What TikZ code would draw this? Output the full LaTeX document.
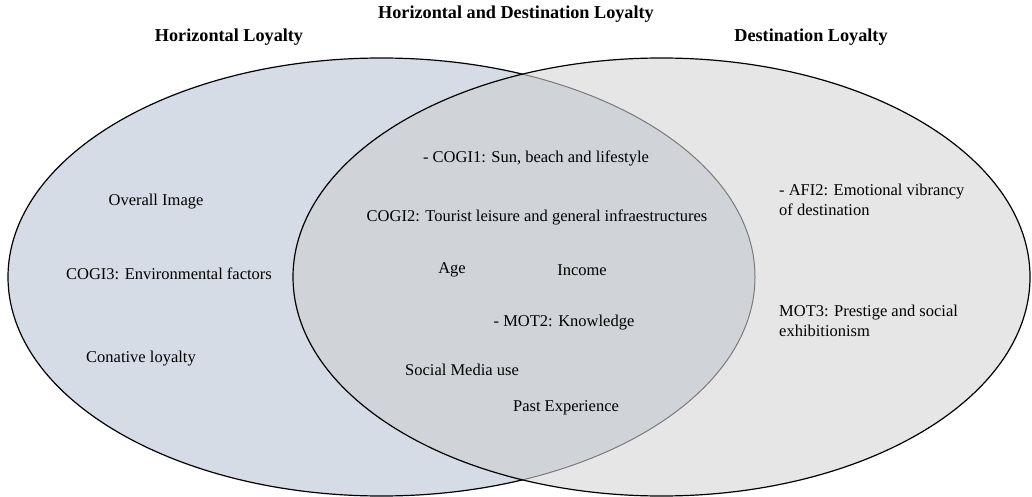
\documentclass[tikz,border=0pt]{standalone}
\usepackage{fontspec}
\setmainfont{Liberation Serif}
\definecolor{leftfill}{HTML}{D6DCE5}
\definecolor{rightfill}{HTML}{E6E6E6}
\definecolor{midfill}{HTML}{D0D3D8}
\definecolor{innerline}{HTML}{7A7A7A}
\begin{document}
\begin{tikzpicture}[x=1pt,y=-1pt,
  lbl/.style={font=\fontsize{16.5}{20}\selectfont, inner sep=0pt},
  ttl/.style={font=\fontsize{18.2}{22}\selectfont\bfseries, inner sep=0pt},
  outline/.style={draw=black, line width=1.2pt}]
\useasboundingbox (0,0) rectangle (1032,497);
% fills
\fill[leftfill] (381.5,277) ellipse [x radius=373.5pt, y radius=219pt];
\fill[rightfill] (661.5,277) ellipse [x radius=368.5pt, y radius=219pt];
\begin{scope}
  \clip (661.5,277) ellipse [x radius=368.5pt, y radius=219pt];
  \fill[midfill] (381.5,277) ellipse [x radius=373.5pt, y radius=219pt];
\end{scope}
% left outline: black outside right ellipse, grey inside
\begin{scope}[even odd rule]
  \clip (-10,-10) rectangle (1042,507)
        (661.5,277) ellipse [x radius=368.5pt, y radius=219pt];
  \draw[outline] (381.5,277) ellipse [x radius=373.5pt, y radius=219pt];
\end{scope}
\begin{scope}
  \clip (661.5,277) ellipse [x radius=368.5pt, y radius=219pt];
  \draw[innerline, line width=1pt] (381.5,277) ellipse [x radius=373.5pt, y radius=219pt];
\end{scope}
\draw[outline] (661.5,277) ellipse [x radius=368.5pt, y radius=219pt];
% titles
\node[ttl] (tboth) at (516,14) {Horizontal and Destination Loyalty};
\node[ttl] (thor) at (229,37) {Horizontal Loyalty};
\node[ttl] (tdest) at (811,37) {Destination Loyalty};
% left labels
\node[lbl] (ov) at (156,202) {Overall Image};
\node[lbl] (cogi3) at (169,274) {COGI3: Environmental factors};
\node[lbl] (conat) at (141,359) {Conative loyalty};
% middle labels
\node[lbl] (cogi1) at (536,158) {- COGI1: Sun, beach and lifestyle};
\node[lbl] (cogi2) at (537,217) {COGI2: Tourist leisure and general infraestructures};
\node[lbl] (age) at (452,270) {Age};
\node[lbl] (income) at (582,270) {Income};
\node[lbl] (mot2) at (564,323) {- MOT2: Knowledge};
\node[lbl] (smu) at (462,370) {Social Media use};
\node[lbl] (past) at (566,408) {Past Experience};
% right labels
\node[lbl, anchor=west, align=left] (afi2) at (779,200) {- AFI2: Emotional vibrancy\\of destination};
\node[lbl, anchor=west, align=left] (mot3) at (779,321) {MOT3: Prestige and social\\exhibitionism};
\end{tikzpicture}
\end{document}
